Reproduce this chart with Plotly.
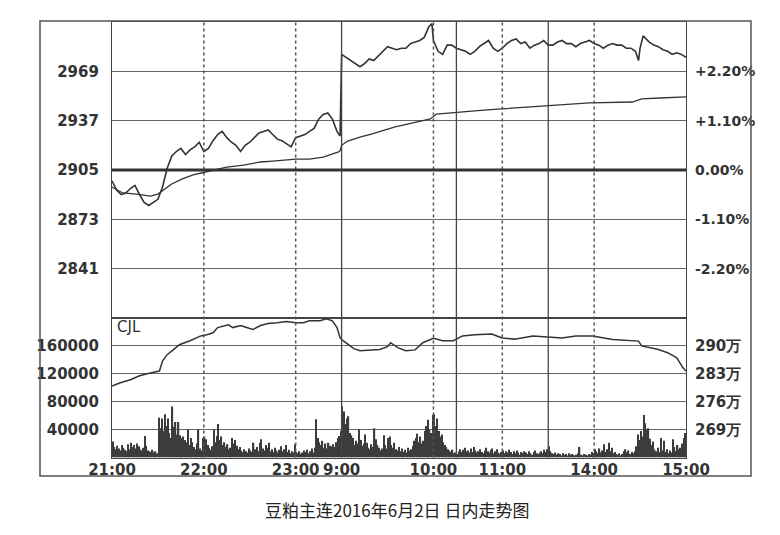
import plotly.graph_objects as go

# ---------------- data ----------------
PREV_SETTLE = 2905  # reference price (0.00%)

SESSIONS = [("21:00", "23:30"), ("09:00", "10:15"), ("10:30", "11:30"), ("13:30", "15:00")]
TICK_LABELS = ["21:00", "22:00", "23:00", "9:00", "10:00", "11:00", "14:00", "15:00"]
HOUR_MARKS = ["22:00", "23:00", "10:00", "11:00", "14:00"]     # dotted lines
SESSION_BREAKS = ["09:00", "10:15", "11:30"]                  # solid lines

PRICE_TICKS = [2841, 2873, 2905, 2937, 2969]
VOL_TICKS = [40000, 80000, 120000, 160000]
OI_TICKS = [269, 276, 283, 290]   # 万

# price line: trading minute since 21:00 and price
PRICE_T = [0, 3, 6, 9, 12, 15, 18, 21, 24, 27, 30, 33, 36, 39, 42, 45, 48, 51, 54, 57,
           60, 63, 66, 69, 72, 75, 78, 81, 84, 87, 90, 93, 96, 99, 102, 105, 108, 111, 114, 117,
           120, 123, 126, 129, 132, 135, 138, 141, 144, 147, 149,
           150, 153, 156, 159, 162, 165, 168, 171, 174, 177, 180, 183, 186, 189, 192, 195, 198,
           201, 204, 207, 209, 210, 213, 216, 219, 222, 225, 228, 231, 234, 237, 240, 243, 246,
           249, 252, 255, 258, 261, 264, 267, 270, 273, 276, 279, 282, 285, 288, 291, 294, 297,
           300, 303, 306, 309, 312, 315, 318, 321, 324, 327, 330, 333, 336, 339, 342, 344, 345,
           347, 348, 351, 354, 357, 360, 363, 366, 369, 372, 375]
PRICE = [2898, 2892, 2889, 2890, 2893, 2895, 2889, 2884, 2882, 2884, 2886, 2894, 2906, 2914,
         2917, 2919, 2915, 2918, 2920, 2923, 2917, 2919, 2924, 2928, 2930, 2926, 2923, 2921,
         2917, 2921, 2923, 2926, 2929, 2930, 2931, 2928, 2925, 2924, 2922, 2920, 2926, 2927,
         2928, 2930, 2932, 2938, 2941, 2942, 2938, 2930, 2927,
         2980, 2978, 2976, 2974, 2972, 2974, 2977, 2976, 2979, 2982, 2985, 2984, 2983, 2984,
         2984, 2987, 2988, 2989, 2991, 2998, 3000, 2989, 2982, 2980, 2986, 2986, 2984, 2983,
         2982, 2980, 2982, 2985, 2987, 2989, 2984, 2982, 2984, 2987, 2989, 2990, 2987, 2988,
         2984, 2986, 2987, 2989, 2986, 2986, 2988, 2989, 2987, 2987, 2985, 2987, 2988, 2989,
         2987, 2986, 2984, 2986, 2987, 2986, 2986, 2984, 2984, 2982, 2976, 2984, 2992, 2991,
         2988, 2986, 2985, 2983, 2982, 2980, 2981, 2980, 2978]

# average price line
AVG_T = [0, 7, 16, 25, 30, 35, 39, 46, 53, 61, 69, 75, 86, 97, 105, 120, 129, 138, 148, 149,
         150, 154, 162, 170, 185, 191, 203, 208, 212, 220, 225, 237, 254, 280, 299, 312, 340,
         346, 358, 375]
AVG = [2894.0, 2890.1, 2889.4, 2888.1, 2889.4, 2892.7, 2895.9, 2899.2, 2901.8, 2903.7,
       2905.6, 2906.9, 2908.2, 2910.2, 2910.8, 2912.1, 2912.1, 2913.4, 2916.7, 2917.5,
       2921.0, 2923.8, 2926.4, 2928.4, 2932.9, 2934.2, 2936.8, 2938.1, 2941.3, 2942.0,
       2942.6, 2943.3, 2944.6, 2946.5, 2947.8, 2948.5, 2949.1, 2951.1, 2951.7, 2952.4]

# open interest (CJL), in 万 contracts
OI_T = [0, 5, 12, 18, 25, 31, 33, 36, 40, 44, 51, 58, 62, 66, 69, 73, 76, 79, 84, 88,
        92, 97, 102, 108, 114, 120, 125, 129, 136, 140, 144, 147, 149, 151, 154, 158, 162, 169,
        175, 180, 182, 187, 192, 198, 203, 210, 216, 223, 229, 237, 248, 255, 263, 275, 283,
        294, 303, 314, 327, 337, 344, 346, 357, 363, 369, 373, 375]
OI = [279.95, 280.7, 281.5, 282.5, 283.2, 283.7, 286.2, 287.8, 289.0, 290.3,
      291.3, 292.5, 292.8, 293.3, 294.6, 295.1, 295.3, 294.6, 295.1, 294.6,
      294.1, 295.1, 295.6, 295.8, 296.1, 295.8, 295.8, 296.3, 296.3, 296.8,
      296.3, 294.6, 292.0, 291.3, 290.5, 289.3, 288.8, 289.0, 289.1, 289.8,
      290.8, 289.5, 288.8, 289.0, 290.8, 291.9, 291.3, 291.3, 292.5, 292.8,
      293.0, 292.0, 291.7, 292.5, 292.3, 292.0, 292.5, 292.5, 291.6, 291.4,
      291.2, 290.0, 289.1, 288.3, 287.0, 284.5, 283.7]

# per-minute volume
VOL = [
    23000, 15000, 12000, 17000, 13000, 10000, 18000, 14000, 11000, 9000,
    19000, 12000, 21000, 15000, 18000, 13000, 20000, 16000, 12000, 10000,
    14000, 31000, 17000, 10000, 9000, 8000, 11000, 7000, 9000, 6000,
    57000, 42000, 56000, 38000, 62000, 45000, 56000, 35000, 28000, 73000,
    44000, 51000, 33000, 51000, 32000, 28000, 30000, 25000, 22000, 40000,
    18000, 28000, 22000, 15000, 12000, 20000, 40000, 13000, 10000, 28000,
    30000, 26000, 18000, 14000, 11000, 16000, 40000, 22000, 31000, 48000,
    25000, 30000, 18000, 22000, 15000, 19000, 12000, 14000, 28000, 20000,
    25000, 17000, 12000, 15000, 10000, 8000, 12000, 9000, 7000, 13000,
    10000, 8000, 21000, 12000, 15000, 9000, 21000, 26000, 13000, 10000,
    18000, 14000, 21000, 9000, 12000, 8000, 14000, 10000, 7000, 11000,
    16000, 9000, 12000, 18000, 8000, 11000, 6000, 9000, 7000, 19000,
    8000, 6000, 9000, 5000, 7000, 10000, 8000, 11000, 6000, 9000,
    13000, 7000, 14000, 55000, 28000, 22000, 18000, 24000, 14000, 20000,
    13000, 21000, 17000, 16000, 19000, 15000, 22000, 28000, 31000, 38000,
    73000, 66000, 48000, 56000, 59000, 35000, 32000, 28000, 18000, 24000,
    20000, 40000, 25000, 17000, 20000, 33000, 21000, 14000, 12000, 19000,
    15000, 42000, 26000, 18000, 14000, 10000, 13000, 32000, 18000, 13000,
    28000, 30000, 18000, 14000, 21000, 12000, 10000, 15000, 9000, 13000,
    8000, 11000, 7000, 14000, 10000, 12000, 17000, 24000, 28000, 34000,
    22000, 30000, 20000, 24000, 38000, 45000, 54000, 40000, 35000, 61000,
    62000, 45000, 56000, 38000, 30000, 33000, 22000, 18000, 15000, 12000,
    10000, 8000, 11000, 6000, 7000, 5000, 9000, 12000, 8000, 11000,
    14000, 9000, 10000, 7000, 13000, 8000, 15000, 10000, 7000, 9000,
    12000, 8000, 6000, 10000, 14000, 9000, 7000, 11000, 13000, 6000,
    9000, 12000, 7000, 5000, 8000, 10000, 6000, 9000, 7000, 11000,
    8000, 5000, 9000, 6000, 10000, 7000, 4000, 8000, 6000, 9000,
    7000, 5000, 9000, 6000, 4000, 8000, 10000, 6000, 5000, 7000,
    9000, 6000, 11000, 8000, 12000, 16000, 9000, 6000, 5000, 7000,
    4000, 6000, 5000, 3000, 6000, 4000, 5000, 3000, 6000, 4000,
    5000, 4000, 3000, 4000, 6000, 15000, 4000, 3000, 5000, 4000,
    3000, 5000, 4000, 8000, 6000, 12000, 9000, 6000, 13000, 7000,
    10000, 19000, 8000, 12000, 21000, 9000, 14000, 6000, 8000, 5000,
    4000, 6000, 3000, 5000, 9000, 12000, 7000, 10000, 5000, 8000,
    6000, 9000, 16000, 33000, 25000, 38000, 30000, 61000, 49000, 40000,
    42000, 27000, 18000, 23000, 12000, 9000, 14000, 8000, 28000, 10000,
    24000, 8000, 12000, 6000, 10000, 7000, 26000, 15000, 9000, 18000,
    12000, 14000, 20000, 28000, 35000,
]

TITLE = "豆粕主连2016年6月2日 日内走势图"


# ---------------- helpers ----------------
def _mins(s):
    h, m = s.split(":")
    return int(h) * 60 + int(m)


def trading_minute(s):
    t = _mins(s)
    off = 0
    for a, b in SESSIONS:
        a, b = _mins(a), _mins(b)
        if a <= t <= b:
            return off + t - a
        off += b - a
    return off


TOTAL = trading_minute("15:00")


def pct_label(v):
    p = (v - PREV_SETTLE) / PREV_SETTLE * 100
    if abs(p) < 0.005:
        return "0.00%"
    return ("+" if p > 0 else "-") + f"{abs(p):.2f}%"


# ---------------- figure ----------------
W, H = 780, 535
INK = "#333333"
GRID = "#666666"

def px_x(v):
    return v / W

def px_y(v):
    return 1 - v / H

X_DOM = [px_x(112), px_x(686)]
P_DOM = [px_y(318), px_y(22)]
V_DOM = [px_y(457.5), px_y(318)]

tick_font = dict(family="DejaVu Sans", size=15, color="#333333", weight="bold")

fig = go.Figure()

fig.add_trace(go.Bar(x=[i + 0.5 for i in range(len(VOL))], y=VOL, width=0.85,
                     marker=dict(color="#3c3c3c", line=dict(width=0)),
                     xaxis="x2", yaxis="y3", hoverinfo="skip"))
fig.add_trace(go.Scatter(x=OI_T, y=OI, mode="lines", line=dict(color=INK, width=1.5),
                         xaxis="x2", yaxis="y4", hoverinfo="skip"))
fig.add_trace(go.Scatter(x=AVG_T, y=AVG, mode="lines", line=dict(color=INK, width=1.3),
                         xaxis="x", yaxis="y", hoverinfo="skip"))
fig.add_trace(go.Scatter(x=PRICE_T, y=PRICE, mode="lines", line=dict(color=INK, width=1.6),
                         xaxis="x", yaxis="y", hoverinfo="skip"))
fig.add_trace(go.Scatter(x=PRICE_T, y=PRICE, mode="lines", opacity=0,
                         xaxis="x", yaxis="y2", hoverinfo="skip"))

axis_common = dict(showline=True, linecolor="#444444", linewidth=1.2, mirror=True,
                   zeroline=False, fixedrange=True, automargin=False)

p_range = [2809, 3001]

shapes = []
for t in HOUR_MARKS:
    m = trading_minute(t)
    shapes.append(dict(type="line", xref="x", yref="paper", x0=m, x1=m,
                       y0=V_DOM[0], y1=P_DOM[1], line=dict(color="#555555", width=1.5, dash="dot")))
for t in SESSION_BREAKS:
    m = trading_minute(t)
    shapes.append(dict(type="line", xref="x", yref="paper", x0=m, x1=m,
                       y0=V_DOM[0], y1=P_DOM[1], line=dict(color="#444444", width=1.3)))
shapes.append(dict(type="line", xref="x domain", yref="y", x0=0, x1=1,
                   y0=PREV_SETTLE, y1=PREV_SETTLE, line=dict(color="#333333", width=3)))
shapes.append(dict(type="rect", xref="paper", yref="paper", x0=px_x(40), x1=px_x(751),
                   y0=px_y(476), y1=px_y(21), line=dict(color="#555555", width=1.5)))

fig.update_layout(
    width=W, height=H, autosize=False,
    margin=dict(l=0, r=0, t=0, b=0, autoexpand=False),
    paper_bgcolor="white", plot_bgcolor="white",
    showlegend=False,
    xaxis=dict(domain=X_DOM, range=[0, TOTAL], anchor="y", showticklabels=False,
               showgrid=False, ticks="", **axis_common),
    xaxis2=dict(domain=X_DOM, range=[0, TOTAL], anchor="y3", showgrid=False,
                tickvals=[trading_minute(t) for t in TICK_LABELS], ticktext=TICK_LABELS,
                tickangle=0, ticks="", tickfont=tick_font, ticklabelstandoff=-2, **axis_common),
    yaxis=dict(domain=P_DOM, range=p_range, anchor="x", tickvals=PRICE_TICKS,
               ticktext=[str(v) for v in PRICE_TICKS], showgrid=True, gridcolor=GRID,
               gridwidth=1, ticks="", tickfont=tick_font, ticklabelstandoff=9, **axis_common),
    yaxis2=dict(overlaying="y", side="right", range=p_range, anchor="x",
                tickvals=PRICE_TICKS, ticktext=[pct_label(v) for v in PRICE_TICKS],
                showgrid=False, showline=False, zeroline=False, ticks="", automargin=False,
                tickfont=dict(family="DejaVu Sans", size=14, color="#333333", weight="bold"),
                ticklabelstandoff=8, fixedrange=True),
    yaxis3=dict(domain=V_DOM, range=[0, 200000], anchor="x2", tickvals=VOL_TICKS,
                ticktext=[str(v) for v in VOL_TICKS], showgrid=True, gridcolor=GRID,
                gridwidth=1, ticks="", tickfont=tick_font, ticklabelstandoff=9, **axis_common),
    yaxis4=dict(overlaying="y3", side="right", range=[262, 297], anchor="x2",
                tickvals=OI_TICKS, ticktext=[f"{v}万" for v in OI_TICKS],
                showgrid=False, showline=False, zeroline=False, ticks="", automargin=False,
                tickfont=tick_font, ticklabelstandoff=8, fixedrange=True),
    shapes=shapes,
    annotations=[
        dict(text="CJL", xref="paper", yref="paper", x=px_x(115), y=px_y(327),
             xanchor="left", yanchor="middle", showarrow=False,
             font=dict(family="DejaVu Sans", size=15, color="#333333")),
        dict(text=TITLE, xref="paper", yref="paper", x=px_x(397), y=px_y(509),
             xanchor="center", yanchor="middle", showarrow=False,
             font=dict(family="Noto Sans CJK SC", size=17, color="#222222")),
    ],
)

fig.write_html("out.html", config={"displayModeBar": False},
               post_script="document.body.style.margin='0px';")
